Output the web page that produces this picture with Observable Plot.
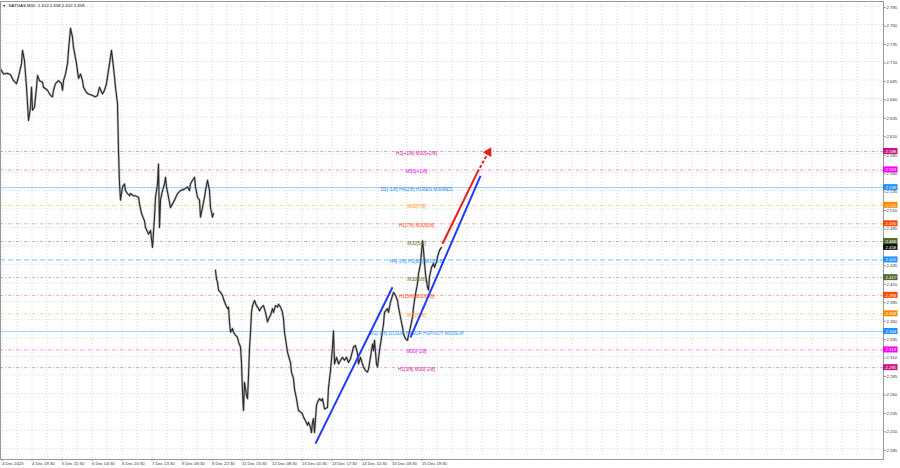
<!DOCTYPE html>
<html><head><meta charset="utf-8">
<script src="https://cdn.jsdelivr.net/npm/d3@7"></script>
<script src="https://cdn.jsdelivr.net/npm/@observablehq/plot@0.6"></script>
<style>
html,body{margin:0;padding:0;background:#fff;}
#chart{width:900px;height:468px;overflow:hidden;}
svg{font-family:"Liberation Sans",Arial,sans-serif;}
</style></head><body><div id="chart"></div>
<script>
const chartTitle = "NATGAS,M30  2.452 2.458 2.452 2.458";

// M30 bars (bar position) and closing prices
const barIndex = [0,3,7,10,13,16,18,21,22,24,26,27,28,30,31,32,34,36,37,39,42,43,47,50,52,53,55,58,61,62,63,65,67,68,70,72,73,76,78,80,82,83,86,88,92,95,97,99,102,104,106,108,111,113,115,117,118,119,120,122,124,125,127,129,130,133,135,138,139,141,144,145,148,150,152,154,155,157,158,159,160,162,164,165,166,168,170,172,174,177,180,184,187,189,190,192,194,195,197,199,200,202,204,205,207,209,210,212,213,
215,216,217,218,220,222,223,225,227,228,229,230,232,233,235,237,238,240,241,242,243,244,246,247,248,249,250,251,252,254,256,258,259,261,263,265,267,268,270,272,273,275,277,278,280,282,283,284,286,287,288,290,291,293,294,296,297,298,300,302,303,305,307,308,310,311,312,313,314,316,317,319,321,322,324,327,328,330,332,333,334,336,338,340,342,344,346,348,350,353,355,357,358,360,362,363,365,367,368,370,372,373,374,376,377,379,381,383,384,387,388,390,392,393,395,397,398,400,402,403,405,407,408,410,412,413,415,417,418,420,422,423,425,427,428,429,431,433,434,436,437,439,441];
const closePrice = [2.700,2.693,2.694,2.692,2.684,2.680,2.689,2.707,2.725,2.711,2.675,2.653,2.630,2.648,2.675,2.644,2.648,2.675,2.691,2.684,2.682,2.675,2.671,2.664,2.662,2.671,2.680,2.684,2.680,2.671,2.684,2.693,2.707,2.725,2.755,2.743,2.729,2.707,2.687,2.693,2.684,2.675,2.668,2.666,2.664,2.662,2.664,2.675,2.666,2.671,2.680,2.698,2.725,2.702,2.675,2.653,2.589,2.545,2.522,2.540,2.544,2.535,2.531,2.528,2.531,2.528,2.528,2.526,2.517,2.504,2.494,2.485,2.476,2.481,2.458,2.499,2.526,2.544,2.571,2.485,2.522,2.535,2.544,2.553,2.540,2.526,2.512,2.517,2.522,2.531,2.535,2.537,2.540,2.535,2.544,2.549,2.553,2.540,2.526,2.522,2.499,2.512,2.526,2.535,2.549,2.535,2.512,2.499,2.504,
2.427,2.415,2.411,2.400,2.397,2.393,2.388,2.381,2.375,2.377,2.357,2.343,2.348,2.343,2.339,2.336,2.330,2.323,2.302,2.262,2.237,2.275,2.257,2.253,2.284,2.321,2.343,2.370,2.379,2.386,2.379,2.375,2.372,2.377,2.379,2.370,2.357,2.361,2.366,2.375,2.370,2.379,2.377,2.381,2.377,2.370,2.361,2.343,2.325,2.316,2.311,2.302,2.289,2.280,2.266,2.253,2.244,2.237,2.235,2.232,2.228,2.223,2.217,2.221,2.214,2.207,2.221,2.226,2.207,2.244,2.248,2.253,2.250,2.253,2.239,2.241,2.268,2.291,2.323,2.345,2.300,2.309,2.300,2.305,2.309,2.305,2.309,2.302,2.307,2.323,2.325,2.314,2.300,2.309,2.300,2.296,2.291,2.289,2.293,2.309,2.327,2.318,2.332,2.300,2.296,2.318,2.336,2.354,2.370,2.375,2.370,2.384,2.393,2.397,2.393,2.386,2.377,2.363,2.350,2.341,2.334,2.332,2.339,2.350,2.363,2.377,2.395,2.409,2.422,2.436,2.467,2.454,2.422,2.404,2.400,2.418,2.431,2.436,2.431,2.438,2.445,2.454,2.458];
const weekendBreakBar = [214];

// time axis
const xTickBars = [1.5,31.5,61.5,91.5,121.5,151.5,181.5,211.5,241.5,271.5,301.5,331.5,361.5,391.5,421.5];
const xTickLabels = ["4 Dec 2023","4 Dec 18:30","5 Dec 11:30","6 Dec 04:30","6 Dec 20:30","7 Dec 13:30","8 Dec 06:30","8 Dec 22:30","11 Dec 15:30","12 Dec 08:30","13 Dec 01:30","13 Dec 17:30","14 Dec 10:30","15 Dec 03:30","15 Dec 19:30"];
// price axis
const yTicks = [2.785,2.760,2.735,2.710,2.685,2.660,2.635,2.610,2.585,2.560,2.535,2.510,2.485,2.460,2.435,2.410,2.385,2.360,2.335,2.310,2.285,2.260,2.235,2.210,2.185];

// Murrey levels
const levelPrices = [2.588,2.563,2.539,2.515,2.490,2.466,2.441,2.417,2.393,2.368,2.344,2.319,2.295];
const levelLabels = ["H1[+1/8] M30[+2/8]","M30[+1/8]","D1[-1/8] H4[2/8] H1RES M30RES","M30[7/8]","H1[7/8] M30[6/8]","M30[5/8]","H4[-1/8] H1[6/8] M30[4/8]","M30[3/8]","H1[5/8] M30[2/8]","M30[1/8]","W1[-1/8] D1SUP H4SUP H1PIVOT M30SUP","M30[-1/8]","H1[3/8] M30[-2/8]"];
const levelColors = ["#d4238f","#f000f0","#1e90ff","#ff9a1a","#ff4a10","#66702a","#1e90ff","#66702a","#ff4a10","#ff9a1a","#1e90ff","#f000f0","#d4238f"];
const levelKinds = ["dot","dot","solid","dot","dot","dot","dash","dot","dot","dot","solid","dot","dot"];

// price tags on the right scale
const tagPrices = [2.588,2.563,2.539,2.515,2.490,2.466,2.458,2.441,2.417,2.393,2.368,2.344,2.319,2.295];
const tagColors = ["#c71585","#ff00ff","#1e90ff","#ff8c00","#ff4500","#556b2f","#111111","#1e90ff","#556b2f","#ff4500","#ff8c00","#1e90ff","#ff00ff","#c71585"];

// trend lines / projection
const blueLine1Bars = [315,392], blueLine1Prices = [2.192,2.404];
const blueLine2Bars = [410,480], blueLine2Prices = [2.336,2.555];
const redSolidBars = [442,477], redSolidPrices = [2.463,2.560];
const redDashBars = [477,488], redDashPrices = [2.560,2.587];

// ---------- build ----------
const W = 900, H = 468;
const xEnd = 883;            // last bar slot at the right edge of the chart
const yDomain = [2.1705, 2.7913];
const series = barIndex.map((b,i)=>({bar:b, close:closePrice[i], week: b < weekendBreakBar[0] ? 1 : 2}));
const levels = levelPrices.map((p,i)=>({price:p, label:levelLabels[i], color:levelColors[i], kind:levelKinds[i]}));
const tags = tagPrices.map((p,i)=>({price:p, color:tagColors[i]}));
const seg = (bars, prices) => [{x1:bars[0], y1:prices[0], x2:bars[1], y2:prices[1]}];
const gridBars = d3.range(1.5, xEnd, 15);
const pxPerPrice = (459 - 1) / (yDomain[1] - yDomain[0]);
const tagHalf = 3 / pxPerPrice;
const labelMap = new Map(xTickBars.map((b,i)=>[b, xTickLabels[i]]));
const fmt = d3.format(".3f");
// direction of the projection arrow (screen degrees, clockwise from up)
const headAngle = Math.atan2(redDashBars[1] - redDashBars[0], (redDashPrices[1] - redDashPrices[0]) * pxPerPrice) * 180 / Math.PI;
const arrowTip = [{bar: redDashBars[1], price: redDashPrices[1]}];

const plot = Plot.plot({
  width: W, height: H,
  marginLeft: 0, marginRight: W - xEnd, marginTop: 1, marginBottom: 9,
  style: {fontFamily: "Liberation Sans, Arial, sans-serif", background: "#fff"},
  x: {type: "linear", domain: [0, xEnd]},
  y: {type: "linear", domain: yDomain},
  marks: [
    Plot.ruleX(gridBars, {stroke: "#d9d9d9", strokeDasharray: "1,2"}),
    Plot.ruleY(yTicks, {stroke: "#d9d9d9", strokeDasharray: "1,2"}),
    Plot.ruleY(levels.filter(d=>d.kind==="dot"), {y: "price", stroke: "color", strokeOpacity: 0.45, strokeDasharray: "3,2,1,2"}),
    Plot.ruleY(levels.filter(d=>d.kind==="dash"), {y: "price", stroke: "color", strokeOpacity: 0.55, strokeDasharray: "5,3"}),
    Plot.ruleY(levels.filter(d=>d.kind==="solid"), {y: "price", stroke: "color", strokeOpacity: 0.38, strokeWidth: 1.2}),
    Plot.line(series, {x: "bar", y: "close", z: "week", stroke: "#9a9a9a", strokeWidth: 2.4, strokeOpacity: 0.6}),
    Plot.line(series, {x: "bar", y: "close", z: "week", stroke: "#2a2a2a", strokeWidth: 1.1}),
    Plot.text(levels, {x: () => 416, y: "price", text: "label", fill: "color", fontSize: 4.8, dy: 1.5}),
    Plot.link(seg(blueLine1Bars, blueLine1Prices), {x1:"x1", y1:"y1", x2:"x2", y2:"y2", stroke: "#1f3cf5", strokeWidth: 2}),
    Plot.link(seg(blueLine2Bars, blueLine2Prices), {x1:"x1", y1:"y1", x2:"x2", y2:"y2", stroke: "#1f3cf5", strokeWidth: 2}),
    Plot.link(seg(redSolidBars, redSolidPrices), {x1:"x1", y1:"y1", x2:"x2", y2:"y2", stroke: "#f01818", strokeWidth: 2}),
    Plot.link(seg(redDashBars, redDashPrices), {x1:"x1", y1:"y1", x2:"x2", y2:"y2", stroke: "#f01818", strokeWidth: 2, strokeDasharray: "3,2"}),
    Plot.dot(arrowTip, {x: "bar", y: "price", symbol: "triangle", r: 3.6, fill: "#f01818", stroke: "none", rotate: headAngle}),
    Plot.frame({stroke: "#9a9a9a"}),
    Plot.axisY(yTicks, {anchor: "right", tickSize: 2, tickPadding: 1, fontSize: 4.3, fill: "#333", stroke: "#9a9a9a", tickFormat: fmt, dy: 1.5}),
    Plot.axisX(xTickBars, {anchor: "bottom", tickSize: 2, tickPadding: 1, fontSize: 4.2, fill: "#333", stroke: "#9a9a9a", textAnchor: "start", tickFormat: d => labelMap.get(d)}),
    Plot.rect(tags, {x1: () => xEnd, x2: () => xEnd + 14.5, y1: d => d.price - tagHalf, y2: d => d.price + tagHalf, fill: "color"}),
    Plot.text(tags, {x: () => xEnd + 7.3, y: "price", text: d => fmt(d.price), fill: "#fff", fontSize: 4.3}),
    Plot.text([chartTitle], {frameAnchor: "top-left", dx: 8, dy: 2.5, text: d => d, fontSize: 4.3, fill: "#111", textAnchor: "start", lineAnchor: "top"}),
    Plot.text(["\u25BC"], {frameAnchor: "top-left", dx: 2, dy: 3, text: d => d, fontSize: 3.5, fill: "#111", textAnchor: "start", lineAnchor: "top"})
  ]
});
document.getElementById("chart").appendChild(plot);
</script></body></html>
